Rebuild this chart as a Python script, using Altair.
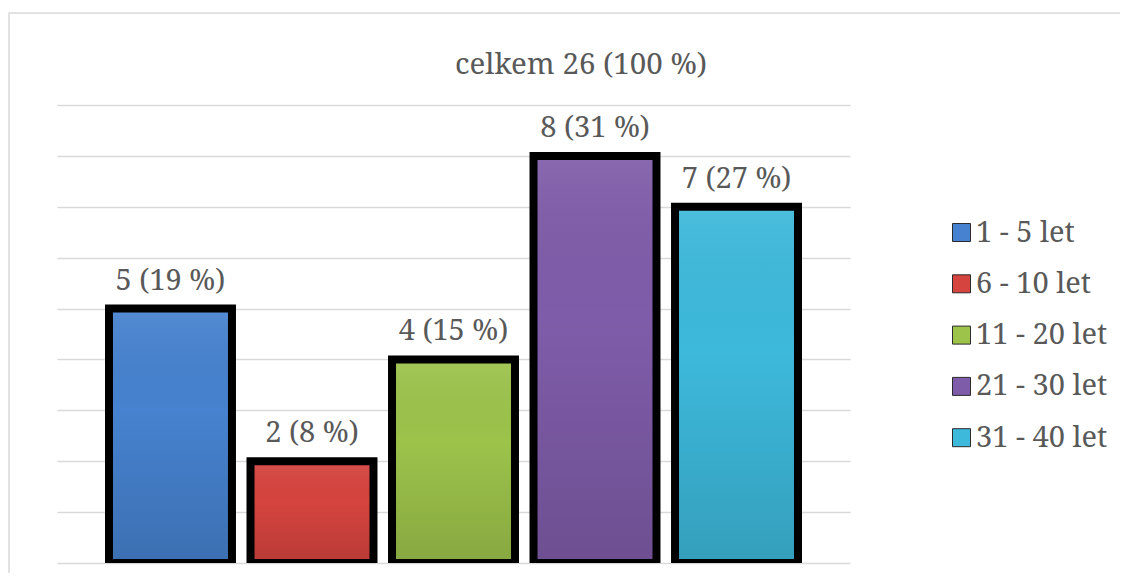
import altair as alt
import pandas as pd

categories = ["1 - 5 let", "6 - 10 let", "11 - 20 let", "21 - 30 let", "31 - 40 let"]
counts = [5, 2, 4, 8, 7]
percents = [19, 8, 15, 31, 27]
colors = ["#4682CF", "#D6443F", "#9DC34B", "#7F5CA9", "#3DB9DB"]
title_text = "celkem 26 (100 %)"

df = pd.DataFrame({"kategorie": categories, "pocet": counts, "procenta": percents})
df["popis"] = [f"{c} ({p} %)" for c, p in zip(counts, percents)]

FONT = "Noto Serif"
TEXT_COLOR = "#595959"

x_enc = alt.X("kategorie:N", sort=categories, axis=None,
              scale=alt.Scale(paddingInner=0.131, paddingOuter=0.3675))
y_enc = alt.Y("pocet:Q", scale=alt.Scale(domain=[0, 9], nice=False),
              axis=alt.Axis(values=list(range(10)), labels=False, ticks=False,
                            domain=False, title=None, gridColor="#D9D9D9",
                            gridWidth=1.5))

base = alt.Chart(df)

bars = base.mark_bar(clip=True).encode(
    x=x_enc,
    y=y_enc,
    color=alt.Color("kategorie:N", sort=categories,
                    scale=alt.Scale(domain=categories, range=colors),
                    legend=alt.Legend(title=None, orient="none",
                                      legendX=890, legendY=113,
                                      symbolType="square", symbolSize=324,
                                      symbolStrokeColor="#2b2b2b",
                                      symbolStrokeWidth=1,
                                      symbolOpacity=1,
                                      labelFont=FONT, labelFontSize=29,
                                      labelColor=TEXT_COLOR, labelOffset=0,
                                      rowPadding=21.3, padding=0,
                                      labelLimit=300)),
)

shade = base.mark_bar(
    fill=alt.LinearGradient(
        gradient="linear",
        stops=[alt.GradientStop(color="rgba(255,255,255,0.08)", offset=0),
               alt.GradientStop(color="rgba(0,0,0,0.0)", offset=0.4),
               alt.GradientStop(color="rgba(0,0,0,0.14)", offset=1)],
        x1=0, x2=0, y1=0, y2=1),
    stroke="black", strokeWidth=8, clip=True,
).encode(x=x_enc, y=y_enc)

labels = base.mark_text(font=FONT, fontSize=29, color=TEXT_COLOR,
                        baseline="alphabetic", dy=-19).encode(
    x=x_enc, y=y_enc, text="popis:N")

frame_df = pd.DataFrame({"f": [0]})
frame = alt.Chart(frame_df).mark_rect(filled=False, stroke="#D9D9D9",
                                     strokeWidth=1.5).encode(
    x=alt.value(-48), x2=alt.value(1400), y=alt.value(-92), y2=alt.value(700))

title = alt.Chart(frame_df).mark_text(font=FONT, fontSize=29.5,
                                      color=TEXT_COLOR, align="center",
                                      baseline="alphabetic").encode(
    x=alt.value(524), y=alt.value(-31), text=alt.value(title_text))

chart = alt.layer(frame, bars, shade, labels, title).properties(
    width=793, height=458,
    autosize=alt.AutoSizeParams(type="none"),
    padding={"left": 49, "top": 97, "right": 270, "bottom": 10},
).configure_view(stroke=None)

chart.save("out.html", embed_options={"renderer": "svg", "actions": False})
